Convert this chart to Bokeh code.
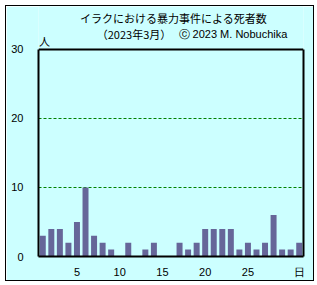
from bokeh.plotting import figure
from bokeh.models import FixedTicker, Span, LinearAxis
from bokeh.core.properties import value
from bokeh.embed import file_html
from bokeh.resources import INLINE

days = list(range(1, 32))
deaths = [3, 4, 4, 2, 5, 10, 3, 2, 1, 0, 2, 0, 1, 2, 0, 0, 2, 1, 2, 4, 4, 4, 4, 1, 2, 1, 2, 6, 1, 1, 2]
x_ticks = [5, 10, 15, 20, 25, 31]
x_tick_labels = ["5", "10", "15", "20", "25", "日"]
y_ticks = [0, 10, 20, 30]
grid_values = [10, 20]
y_max = 30
title1 = "イラクにおける暴力事件による死者数"
title2a = "（2023年3月）"
title2b = "ⓒ 2023 M. Nobuchika"
unit_label = "人"

BG = "#CCFFFF"
JP = "Noto Sans CJK JP"

# frame extends above the value axis so that the header texts can sit inside it
p = figure(width=307, height=274, output_backend="svg", toolbar_location=None,
           x_range=(0.5, 31.5), y_range=(0, 36.23),
           min_border_left=32, min_border_right=10, min_border_top=0, min_border_bottom=24,
           background_fill_color=BG, border_fill_color=BG)
p.styles = {"margin-left": "6px", "margin-top": "6px", "outline": "1px solid black"}
p.outline_line_color = None

p.vbar(x=days, top=deaths, width=0.7, color="#666699", line_color=None)

p.xgrid.visible = False
p.ygrid.ticker = FixedTicker(ticks=grid_values)
p.ygrid.grid_line_color = "#008000"
p.ygrid.grid_line_dash = "3 2"
p.ygrid.grid_line_width = 1

# top edge of the plot area
p.add_layout(Span(location=y_max, dimension="width", line_color="black", line_width=2))

# right edge of the plot area
right_axis = LinearAxis(bounds=(0, y_max), ticker=FixedTicker(ticks=[]),
                        major_label_text_font_size="0px", major_label_standoff=0)
p.add_layout(right_axis, "right")

for ax in (p.xaxis[0], p.yaxis[0], right_axis):
    ax.axis_line_color = "black"
    ax.axis_line_width = 2
    ax.major_tick_line_color = None
    ax.minor_tick_line_color = None
    ax.major_tick_out = 0
    ax.major_tick_in = 0
    ax.minor_tick_out = 0
    ax.minor_tick_in = 0
    ax.major_label_text_font = "Liberation Sans"
    ax.major_label_text_color = "black"
p.xaxis[0].major_label_text_font_size = "11px"
p.yaxis[0].major_label_text_font_size = "11px"

p.xaxis.ticker = FixedTicker(ticks=x_ticks)
p.xaxis.major_label_overrides = {t: s for t, s in zip(x_ticks, x_tick_labels)}
p.xaxis.major_label_standoff = 9
p.yaxis[0].ticker = FixedTicker(ticks=y_ticks)
p.yaxis[0].bounds = (0, y_max)
p.yaxis[0].major_label_standoff = 15

txt = dict(text_baseline="middle", text_font_size="11px", text_color="black")
p.text(x=[16.29], y=[34.6], text=[title1], text_align="center", text_font=value(JP), **txt)
p.text(x=[11.67], y=[32.29], text=[title2a], text_align="center", text_font=value(JP), **txt)
p.text(x=[16.88], y=[32.29], text=[title2b], text_align="left", text_font=value("Liberation Sans"), **txt)
p.text(x=[1.2], y=[31.3], text=[unit_label], text_align="center", text_font=value(JP), **txt)

open("out.html", "w").write(file_html(p, INLINE))
